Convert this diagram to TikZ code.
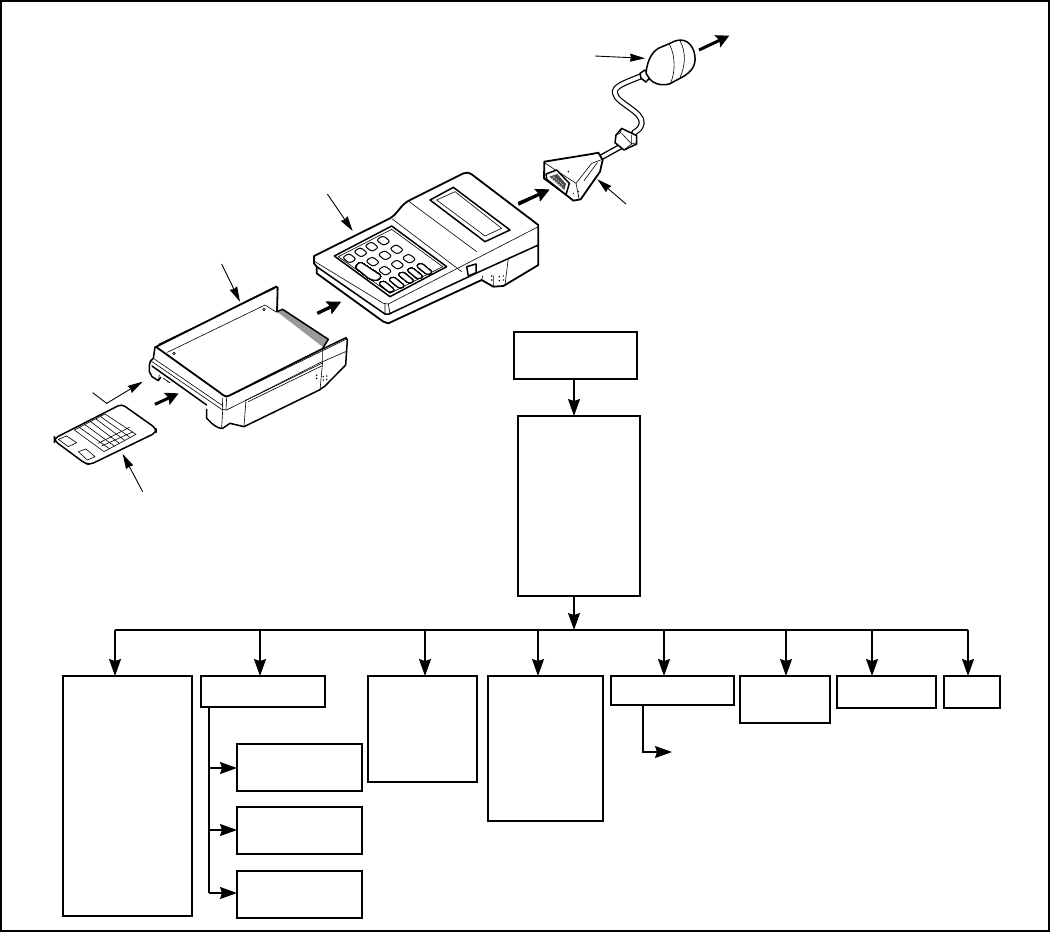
\documentclass[tikz,border=0pt]{standalone}
\usetikzlibrary{arrows.meta,calc}
\tikzset{
  flowbox/.style={draw=black,fill=white,line width=1.9pt,rectangle,inner sep=0pt,outer sep=0pt,anchor=north west},
  flow/.style={draw=black,line width=1.5pt,-{Stealth[length=17pt,width=12pt,inset=2pt]}},
  flowline/.style={draw=black,line width=1.5pt},
  heavyarrow/.style={draw=black,line width=3pt,-{Stealth[length=13pt,width=13pt,inset=2pt]}},
  thinarrow/.style={draw=black,line width=0.9pt,-{Stealth[length=15pt,width=8pt,inset=1pt]}},
  outl/.style={draw=black,line width=1.5pt,line join=round,line cap=round},
  fine/.style={draw=black,line width=0.6pt,line join=round,line cap=round},
  capline/.style={draw=black,line width=1pt,line join=round,rounded corners=2.5pt,fill=white},
  zoomA/.style={shift={(30,250)},x=0.33333pt,y=-0.33333pt},
  zoomB/.style={shift={(290,150)},x=0.33333pt,y=-0.33333pt},
  zoomC/.style={shift={(510,20)},x=0.33333pt,y=-0.33333pt},
}
\newcommand{\fbx}[5]{\node[flowbox,minimum width=#4pt-#2pt,minimum height=#5pt-#3pt] (#1) at (#2,#3) {};}
\newcommand{\keycap}[2]{\draw[capline] ($(#1,#2)+(-1,-15)$) -- ($(#1,#2)+(21,2)$) -- ($(#1,#2)+(1,15)$) -- ($(#1,#2)+(-21,-2)$) -- cycle;}
\newcommand{\keycapb}[2]{\draw[capline] ($(#1,#2)+(-9,-18)$) -- ($(#1,#2)+(25,10)$) -- ($(#1,#2)+(9,18)$) -- ($(#1,#2)+(-25,-10)$) -- cycle;}
\begin{document}
\begin{tikzpicture}[x=1pt,y=-1pt]
\useasboundingbox (0,0) rectangle (1051,932);
\fill[white] (0,0) rectangle (1051,932);
\draw[black,line width=2pt] (1,1) rectangle (1049,931);

% ---------- flow chart
\fbx{top}{514}{332}{637}{379}
\fbx{main}{518}{416}{640}{596}
\fbx{a}{63}{676}{192}{916}
\fbx{b}{201}{676}{325}{707}
\fbx{ca}{237}{744}{362}{791}
\fbx{cb}{237}{807}{362}{854}
\fbx{cc}{237}{871}{362}{918}
\fbx{d}{368}{676}{477}{782}
\fbx{e}{488}{676}{603}{821}
\fbx{f}{611}{676}{734}{705}
\fbx{g}{740}{676}{830}{723}
\fbx{h}{837}{676}{936}{708}
\fbx{i}{944}{676}{1000}{708}

\draw[flow] (574,379) -- (574,416);
\coordinate (busm) at (574,630);
\coordinate (busl) at (115,630);
\coordinate (busr) at (968,630);
\draw[flow] (574,596) -- (busm);
\draw[flowline] (busl) -- (busr);
\foreach \nm/\xx in {a/115,b/260,d/425,e/538,f/664,g/786,h/872,i/968}
  \draw[flow] (\xx,630) -- (\xx,676);
\coordinate (brc) at (209,893);
\draw[flowline] (209,707) -- (brc);
\draw[flow] (209,768) -- (ca.west |- 0,768);
\draw[flow] (209,830) -- (cb.west |- 0,830);
\draw[flow] (brc) -- (cc.west |- brc);
\coordinate (fend) at (672,752);
\draw[flow] (643,705) -- (643,752) -- (fend);

% ---------- cradle
\begin{scope}[zoomA]
 \fill[white] (378,288)--(738,110)--(950,265)--(947,345)--(640,530)--(572,535)--(358,365)--cycle;
 \draw[outl] (530,478)--(530,505)--(545,520) .. controls (560,532) and (570,536) .. (578,535) -- (600,520)--(642,530)--(868,420)--(885,408)--(947,345)--(952,270)--(948,263)--(880,296);
 \draw[outl] (362,332)--(358,345)--(358,365)--(366,380)--(385,392)--(392,382);
 \draw[fine] (385,392)--(388,375) (400,385)--(420,398)--(412,395);
 \draw[outl,line width=1.8pt] (375,292)--(738,110)--(743,113)--(741,185);
 \draw[outl,line width=1.8pt] (380,292)--(570,428) .. controls (580,437) and (588,442) .. (597,437) -- (880,295);
 \draw[outl] (375,292)--(370,325)--(362,332);
 \draw[fine] (385,283)--(735,115);
 \draw[fine] (412,307)--(705,165)--(738,186);
 \draw[fine] (432,310) circle (4) (702,178) circle (4);
 \fill[black!40] (741,185)--(758,178)--(895,268)--(880,292)--cycle;
 \draw[outl] (741,185)--(758,178)--(895,268)--(880,292);
 \draw[fine] (362,332)--(575,478)--(590,480)--(876,335);
 \draw[fine] (370,325)--(575,465);
 \draw[outl] (366,348)--(530,465);
 \draw[fine] (577,445)--(578,482)--(575,533) (590,442)--(588,480);
 \draw[fine] (648,450)--(642,528) (650,450)--(875,340) (655,455)--(875,348);
 \draw[fine] (878,292)--(878,335)--(870,420);
 \draw[fine] (878,335)--(947,305);
 \draw[fine] (600,437)--(948,268);
 \foreach \px/\py in {860/376, 860/385, 880/380, 880/390, 890/378, 890/388}
   \fill (\px,\py) circle (2.5);
 % card
 \draw[outl,fill=white,rounded corners=4pt] (73,565)--(275,462)--(378,535)--(378,548)--(180,644)--(165,640)--(73,572)--cycle;
 \draw[fine] (85,568)--(110,558)--(140,578)--(115,590)--cycle;
 \draw[fine] (145,605)--(168,597)--(195,620)--(172,630)--cycle;
 \draw[fine] (133,540)--(225,492)--(318,553)--(222,605)--cycle;
 \foreach \ax/\ay/\bx/\by in {148/532/238/596, 165/524/253/588, 182/515/268/580, 198/507/284/571, 212/500/300/562}
   \draw[fine] (\ax,\ay)--(\bx,\by);
 \draw[fine] (205,580)--(300,531) (215,588)--(308,546);
 \draw[thinarrow] (575,42)--(630,155);
 \draw[thinarrow] (188,428)--(230,460)--(338,395);
 \draw[thinarrow] (338,725)--(278,612);
 \draw[heavyarrow] (375,463)--(446,430);
 \draw[heavyarrow] (862,190)--(933,155);
\end{scope}

% ---------- handset
\begin{scope}[zoomB]
 \draw[outl,line width=1.8pt,fill=white] (72,318)--(300,205) .. controls (325,190) and (330,165) .. (360,150) -- (520,70) .. controls (530,66) and (535,68) .. (545,73) -- (745,225)--(745,345)--(640,408)--(610,410)--(575,390)--(295,520)--(280,515)--(80,370)--(80,350)--(72,340)--cycle;
 \draw[fine] (75,335)--(280,460)--(295,462)--(745,230);
 \draw[outl] (80,350)--(285,492)--(297,492)--(575,362)--(745,285);
 \draw[fine] (285,462)--(285,492) (295,462)--(300,492);
 \draw[fine] (307,207)--(515,365) (355,153)--(560,305);
 \draw[fine] (575,390)--(578,378);
 \draw[fine] (655,325)--(645,405) (610,378)--(610,410);
 \draw[outl] (420,150)--(490,112)--(660,240)--(585,275)--cycle;
 \draw[fine] (440,150)--(495,125)--(635,235)--(585,258)--cycle;
 \draw[outl] (133,318)--(305,228)--(470,350)--(300,440)--cycle;
 \draw[fine] (145,320)--(305,238)--(458,350)--(300,430)--cycle;
 \foreach \kx/\ky in {178/325, 212/307, 245/290, 280/272,
                      248/335, 285/316, 320/298,
                      285/362, 322/344, 357/326}
   \keycap{\kx}{\ky}
 \foreach \kx/\ky in {290/410, 320/398, 348/383, 375/370, 403/357}
   \keycapb{\kx}{\ky}
 \draw[capline] (210,335)--(275,378)--(262,392)--(240,388)--(195,352)--cycle;
 \draw[outl,fill=white] (530,350)--(558,342)--(558,368)--(535,378)--cycle;
 \draw[thinarrow] (112,132)--(188,243);
 \draw[heavyarrow] (82,490)--(152,457);
 \draw[heavyarrow] (685,163)--(778,118);
 \foreach \px/\py in {605/378, 605/390, 628/380, 628/392, 640/378, 640/390}
   \fill (\px,\py) circle (2.5);
\end{scope}

% ---------- cable and plug
\begin{scope}[zoomC]
 \draw[black,line width=6pt,line cap=round] (395,168) .. controls (340,190) and (310,200) .. (315,220) .. controls (320,250) and (400,275) .. (395,310) .. controls (392,325) and (385,330) .. (372,338);
 \draw[white,line width=3.6pt,line cap=round] (395,168) .. controls (340,190) and (310,200) .. (315,220) .. controls (320,250) and (400,275) .. (395,310) .. controls (392,325) and (385,330) .. (372,338);
 \draw[outl,fill=white] (390,160)--(405,150)--(422,170)--(408,186)--(393,175)--cycle;
 \draw[outl,fill=white] (408,160) .. controls (412,120) and (425,98) .. (445,85) -- (480,70) .. controls (510,52) and (540,58) .. (552,95) .. controls (562,130) and (550,155) .. (510,175) -- (478,192) .. controls (450,198) and (430,190) .. (420,178) -- cycle;
 \draw[fine] (478,72) .. controls (498,110) and (495,160) .. (482,188);
 \draw[fine] (510,62) .. controls (530,100) and (525,140) .. (510,172);
 \draw[black,line width=6pt] (335,378)--(268,415);
 \draw[white,line width=3.2pt] (335,378)--(268,415);
 \draw[outl,fill=white] (318,345)--(335,325)--(380,347)--(380,372)--(342,390)--(315,368)--cycle;
 \draw[fine] (335,340)--(365,372)--(380,368) (335,325)--(330,340)--(318,345) (365,345)--(365,372)--(342,390);
 \draw[outl,line width=1.8pt,fill=white] (103,425)--(245,402)--(265,398)--(278,420)--(270,455)--(212,538)--(190,542)--(165,522)--(102,475)--cycle;
 \draw[fine] (103,428)--(198,490)--(208,540);
 \draw[fine] (198,490)--(245,430)--(272,420);
 \draw[fine] (222,482)--(262,428);
 \draw[outl,fill=white] (108,462)--(140,450)--(178,490)--(168,524)--(110,478)--cycle;
 \fill[black!70] (118,470)--(142,462)--(168,492)--(163,510)--cycle;
 \draw[white,line width=0.5pt,dash pattern=on 1.5pt off 1.5pt] (130,470)--(160,495) (125,474)--(156,500);
 \fill (175,455) circle (2.5);
 \foreach \px/\py in {190/520, 205/515, 205/528} \fill (\px,\py) circle (2.2);
 \draw[thinarrow] (255,108)--(405,115);
 \draw[thinarrow] (348,552)--(262,478);
 \draw[heavyarrow] (567,90)--(658,47);
 \draw[heavyarrow] (25,550)--(118,510);
\end{scope}
\end{tikzpicture}
\end{document}
